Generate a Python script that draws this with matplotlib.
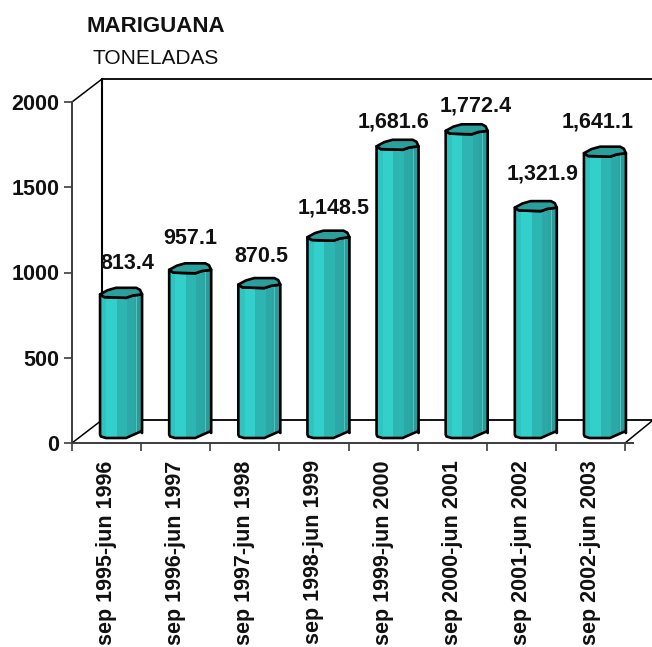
import numpy as np
import matplotlib
matplotlib.use('Agg')
import matplotlib.pyplot as plt
from matplotlib.patches import Polygon

# toneladas por periodo
periods = ['sep 1995-jun 1996', 'sep 1996-jun 1997', 'sep 1997-jun 1998', 'sep 1998-jun 1999',
           'sep 1999-jun 2000', 'sep 2000-jun 2001', 'sep 2001-jun 2002', 'sep 2002-jun 2003']
values = [813.4, 957.1, 870.5, 1148.5, 1681.6, 1772.4, 1321.9, 1641.1]
value_labels = ['813.4', '957.1', '870.5', '1,148.5', '1,681.6', '1,772.4', '1,321.9', '1,641.1']
y_ticks = [0, 500, 1000, 1500, 2000]

plt.rcParams['font.family'] = ['Liberation Sans', 'DejaVu Sans']

W, H = 652, 647
fig = plt.figure(figsize=(W / 100, H / 100), dpi=100, facecolor='w')
ax = fig.add_axes([72 / W, 1 - 443 / H, (625 - 72) / W, (443 - 102) / H])
ax.set_xlim(0, 8)
ax.set_ylim(0, 2000)

# pixel to data scale
px_x = 8 / (625 - 72)
px_y = 2000 / (443 - 102)
depth_x = 30 * px_x
depth_y = 23 * px_y

dark = '#3c3c3c'
for side in ['top', 'right']:
    ax.spines[side].set_visible(False)
ax.spines['left'].set_color(dark)
ax.spines['left'].set_linewidth(1.4)
ax.spines['bottom'].set_color(dark)
ax.spines['bottom'].set_linewidth(1.4)

ax.set_yticks(y_ticks)
ax.set_yticklabels([str(t) for t in y_ticks], fontsize=15.5, fontweight='bold', color='#111111')
ax.set_xticks(range(9))
ax.set_xticklabels([])
ax.set_xticks(np.arange(8) + 0.5, minor=True)
ax.set_xticklabels(periods, minor=True, rotation=90, fontsize=15.5, fontweight='bold',
                   va='top', ha='center', color='#111111')
ax.tick_params(axis='x', which='major', length=5.5, width=1.2, color=dark)
ax.tick_params(axis='x', which='minor', length=0, pad=12.5)
ax.tick_params(axis='y', length=5.5, width=1.2, color=dark, pad=3.6)

# 3d frame
frame_kw = dict(color='k', lw=1.1, clip_on=False, zorder=1)
ax.plot([0, depth_x], [2000, 2000 + depth_y], **frame_kw)
ax.plot([0, depth_x], [0, depth_y], **frame_kw)
ax.plot([8, 8 + 27 * px_x], [0, 22 * px_y], **frame_kw)
ax.plot([depth_x, depth_x], [depth_y, 2000 + depth_y], color='k', lw=1.5, clip_on=False, zorder=1)
ax.plot([depth_x, 8 + 27 * px_x], [2000 + depth_y] * 2, color='k', lw=1.3, clip_on=False, zorder=1)
ax.plot([depth_x, 8 + 27 * px_x], [depth_y] * 2, color='k', lw=1.3, clip_on=False, zorder=1)
ax.plot([8, 8 + 8 * px_x], [0, 0], color=dark, lw=1.4, clip_on=False, zorder=1)

# cylinder outline, in fractions of the width and pixels from the ellipse centre
top_u = np.array([0, 0.10, 0.30, 0.62, 0.78, 1.0, 0.95, 0.86, 0.38, 0.18, 0])
top_v = np.array([-1.5, -4.3, -4.6, -5, -2.7, -1.5, 3, 5, 5, 2.6, -1.5])
front_u = top_u[:6]
front_v = top_v[:6]
bottom_u = np.array([1.0, 0.97, 0.78, 0.62, 0.14, 0.02, 0])
bottom_v = np.array([-1.5, 0, -3.5, -6.5, -6.5, -5, -3])

# stripes across the cylinder
stripe_edges = [0, 0.15, 0.40, 0.65, 0.80, 0.86, 0.885, 1.0]
stripe_cols = ['#2fc4c0', '#33cfcb', '#2db5b2', '#2ca9a7', '#2ba5a3', '#4fc4c1', '#2b9a98']

bar_w = 42 * px_x
bar_off = 0.5 + 14.5 * px_x
base = 11.5 * px_y
label_off = [(6, 29), (0, 30), (2, 27), (5, 28), (-4, 23), (9, 23), (7, 32), (-7, 30)]

for i, v in enumerate(values):
    left = i + bar_off - bar_w / 2
    y_top = v + base
    ux = np.concatenate([front_u, bottom_u])
    uy = np.concatenate([y_top + front_v * px_y, base + bottom_v * px_y])
    body = Polygon(np.column_stack([left + ux * bar_w, uy]), closed=True, fc='none', ec='k',
                   lw=1.9, clip_on=False, zorder=4, joinstyle='round')
    ax.add_patch(body)
    for j, c in enumerate(stripe_cols):
        x0 = left + stripe_edges[j] * bar_w
        x1 = left + stripe_edges[j + 1] * bar_w
        b = ax.bar(x0, y_top + 40, x1 - x0, align='edge', color=c, lw=0, zorder=3)[0]
        b.set_clip_path(body)
    cap = Polygon(np.column_stack([left + top_u * bar_w, y_top + top_v * px_y]), closed=True,
                  fc='#2a9f9c', ec='k', lw=1.9, clip_on=False, zorder=5, joinstyle='round')
    ax.add_patch(cap)
    ax.annotate(value_labels[i], (i + bar_off, y_top), xytext=(label_off[i][0] * 0.72, label_off[i][1] * 0.72),
                textcoords='offset points', ha='center', va='center', fontsize=15.5, fontweight='bold',
                color='#111111', annotation_clip=False, zorder=6)

fig.text(155.5 / W, 1 - 27 / H, 'MARIGUANA', ha='center', va='center', fontsize=16, fontweight='bold', color='#111111')
fig.text(155.5 / W, 1 - 58.5 / H, 'TONELADAS', ha='center', va='center', fontsize=15, color='#111111')

fig.savefig('out.png', dpi=100, facecolor='w')
